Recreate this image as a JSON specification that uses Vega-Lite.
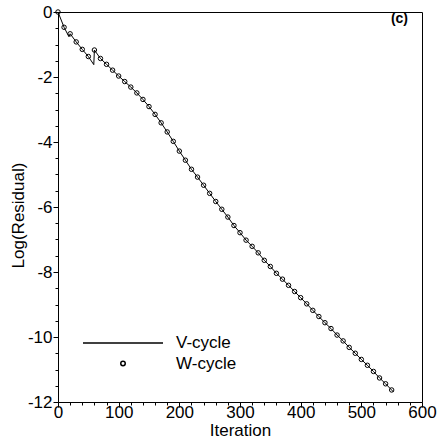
{
  "$schema": "https://vega.github.io/schema/vega-lite/v6.json",
  "autosize": "none",
  "width": 364,
  "height": 390,
  "padding": {"left": 58, "top": 12, "right": 19, "bottom": 40},
  "background": "white",
  "config": {
    "view": {"stroke": "black", "strokeWidth": 1},
    "font": "Liberation Sans",
    "axis": {
      "grid": false,
      "domainColor": "black",
      "tickColor": "black",
      "labelColor": "black",
      "titleColor": "black",
      "labelFont": "Liberation Sans",
      "titleFont": "Liberation Sans",
      "labelFontSize": 17,
      "titleFontSize": 17,
      "titleFontWeight": "normal",
      "labelFlush": false,
      "labelOverlap": false
    }
  },
  "datasets": {
    "res": [
      {"it": 0, "lr": 0, "series": "V-cycle"},
      {"it": 10, "lr": -0.47, "series": "V-cycle"},
      {"it": 18, "lr": -0.76, "series": "V-cycle"},
      {"it": 20, "lr": -0.67, "series": "V-cycle"},
      {"it": 30, "lr": -0.92, "series": "V-cycle"},
      {"it": 40, "lr": -1.15, "series": "V-cycle"},
      {"it": 50, "lr": -1.37, "series": "V-cycle"},
      {"it": 59, "lr": -1.62, "series": "V-cycle"},
      {"it": 60, "lr": -1.17, "series": "V-cycle"},
      {"it": 70, "lr": -1.43, "series": "V-cycle"},
      {"it": 80, "lr": -1.61, "series": "V-cycle"},
      {"it": 90, "lr": -1.79, "series": "V-cycle"},
      {"it": 100, "lr": -1.97, "series": "V-cycle"},
      {"it": 110, "lr": -2.14, "series": "V-cycle"},
      {"it": 120, "lr": -2.31, "series": "V-cycle"},
      {"it": 130, "lr": -2.49, "series": "V-cycle"},
      {"it": 140, "lr": -2.69, "series": "V-cycle"},
      {"it": 150, "lr": -2.91, "series": "V-cycle"},
      {"it": 160, "lr": -3.15, "series": "V-cycle"},
      {"it": 170, "lr": -3.41, "series": "V-cycle"},
      {"it": 180, "lr": -3.69, "series": "V-cycle"},
      {"it": 190, "lr": -3.98, "series": "V-cycle"},
      {"it": 200, "lr": -4.28, "series": "V-cycle"},
      {"it": 210, "lr": -4.56, "series": "V-cycle"},
      {"it": 220, "lr": -4.84, "series": "V-cycle"},
      {"it": 230, "lr": -5.08, "series": "V-cycle"},
      {"it": 240, "lr": -5.33, "series": "V-cycle"},
      {"it": 250, "lr": -5.58, "series": "V-cycle"},
      {"it": 260, "lr": -5.83, "series": "V-cycle"},
      {"it": 270, "lr": -6.07, "series": "V-cycle"},
      {"it": 280, "lr": -6.31, "series": "V-cycle"},
      {"it": 290, "lr": -6.57, "series": "V-cycle"},
      {"it": 300, "lr": -6.79, "series": "V-cycle"},
      {"it": 310, "lr": -7.02, "series": "V-cycle"},
      {"it": 320, "lr": -7.21, "series": "V-cycle"},
      {"it": 330, "lr": -7.41, "series": "V-cycle"},
      {"it": 340, "lr": -7.64, "series": "V-cycle"},
      {"it": 350, "lr": -7.83, "series": "V-cycle"},
      {"it": 360, "lr": -8.04, "series": "V-cycle"},
      {"it": 370, "lr": -8.22, "series": "V-cycle"},
      {"it": 380, "lr": -8.41, "series": "V-cycle"},
      {"it": 390, "lr": -8.60, "series": "V-cycle"},
      {"it": 400, "lr": -8.79, "series": "V-cycle"},
      {"it": 410, "lr": -8.98, "series": "V-cycle"},
      {"it": 420, "lr": -9.18, "series": "V-cycle"},
      {"it": 430, "lr": -9.37, "series": "V-cycle"},
      {"it": 440, "lr": -9.56, "series": "V-cycle"},
      {"it": 450, "lr": -9.74, "series": "V-cycle"},
      {"it": 460, "lr": -9.94, "series": "V-cycle"},
      {"it": 470, "lr": -10.12, "series": "V-cycle"},
      {"it": 480, "lr": -10.32, "series": "V-cycle"},
      {"it": 490, "lr": -10.50, "series": "V-cycle"},
      {"it": 500, "lr": -10.69, "series": "V-cycle"},
      {"it": 510, "lr": -10.87, "series": "V-cycle"},
      {"it": 520, "lr": -11.06, "series": "V-cycle"},
      {"it": 530, "lr": -11.26, "series": "V-cycle"},
      {"it": 540, "lr": -11.44, "series": "V-cycle"},
      {"it": 553, "lr": -11.69, "series": "V-cycle"},
      {"it": 0, "lr": 0, "series": "W-cycle"},
      {"it": 10, "lr": -0.47, "series": "W-cycle"},
      {"it": 20, "lr": -0.67, "series": "W-cycle"},
      {"it": 30, "lr": -0.92, "series": "W-cycle"},
      {"it": 40, "lr": -1.15, "series": "W-cycle"},
      {"it": 50, "lr": -1.37, "series": "W-cycle"},
      {"it": 60, "lr": -1.17, "series": "W-cycle"},
      {"it": 70, "lr": -1.43, "series": "W-cycle"},
      {"it": 80, "lr": -1.61, "series": "W-cycle"},
      {"it": 90, "lr": -1.79, "series": "W-cycle"},
      {"it": 100, "lr": -1.97, "series": "W-cycle"},
      {"it": 110, "lr": -2.14, "series": "W-cycle"},
      {"it": 120, "lr": -2.31, "series": "W-cycle"},
      {"it": 130, "lr": -2.49, "series": "W-cycle"},
      {"it": 140, "lr": -2.69, "series": "W-cycle"},
      {"it": 150, "lr": -2.91, "series": "W-cycle"},
      {"it": 160, "lr": -3.15, "series": "W-cycle"},
      {"it": 170, "lr": -3.41, "series": "W-cycle"},
      {"it": 180, "lr": -3.69, "series": "W-cycle"},
      {"it": 190, "lr": -3.98, "series": "W-cycle"},
      {"it": 200, "lr": -4.28, "series": "W-cycle"},
      {"it": 210, "lr": -4.56, "series": "W-cycle"},
      {"it": 220, "lr": -4.84, "series": "W-cycle"},
      {"it": 230, "lr": -5.08, "series": "W-cycle"},
      {"it": 240, "lr": -5.33, "series": "W-cycle"},
      {"it": 250, "lr": -5.58, "series": "W-cycle"},
      {"it": 260, "lr": -5.83, "series": "W-cycle"},
      {"it": 270, "lr": -6.07, "series": "W-cycle"},
      {"it": 280, "lr": -6.31, "series": "W-cycle"},
      {"it": 290, "lr": -6.57, "series": "W-cycle"},
      {"it": 300, "lr": -6.79, "series": "W-cycle"},
      {"it": 310, "lr": -7.02, "series": "W-cycle"},
      {"it": 320, "lr": -7.21, "series": "W-cycle"},
      {"it": 330, "lr": -7.41, "series": "W-cycle"},
      {"it": 340, "lr": -7.64, "series": "W-cycle"},
      {"it": 350, "lr": -7.83, "series": "W-cycle"},
      {"it": 360, "lr": -8.04, "series": "W-cycle"},
      {"it": 370, "lr": -8.22, "series": "W-cycle"},
      {"it": 380, "lr": -8.41, "series": "W-cycle"},
      {"it": 390, "lr": -8.60, "series": "W-cycle"},
      {"it": 400, "lr": -8.79, "series": "W-cycle"},
      {"it": 410, "lr": -8.98, "series": "W-cycle"},
      {"it": 420, "lr": -9.18, "series": "W-cycle"},
      {"it": 430, "lr": -9.37, "series": "W-cycle"},
      {"it": 440, "lr": -9.56, "series": "W-cycle"},
      {"it": 450, "lr": -9.74, "series": "W-cycle"},
      {"it": 460, "lr": -9.94, "series": "W-cycle"},
      {"it": 470, "lr": -10.12, "series": "W-cycle"},
      {"it": 480, "lr": -10.32, "series": "W-cycle"},
      {"it": 490, "lr": -10.50, "series": "W-cycle"},
      {"it": 500, "lr": -10.69, "series": "W-cycle"},
      {"it": 510, "lr": -10.87, "series": "W-cycle"},
      {"it": 520, "lr": -11.06, "series": "W-cycle"},
      {"it": 530, "lr": -11.26, "series": "W-cycle"},
      {"it": 540, "lr": -11.44, "series": "W-cycle"},
      {"it": 550, "lr": -11.63, "series": "W-cycle"}
    ],
    "tag": [{"it": 577, "lr": -0.2, "label": "(c)"}]
  },
  "encoding": {
    "x": {
      "field": "it", "type": "quantitative",
      "scale": {"domain": [0, 600], "nice": false, "zero": false},
      "axis": {
        "title": "Iteration",
        "values": [0,20,40,60,80,100,120,140,160,180,200,220,240,260,280,300,320,340,360,380,400,420,440,460,480,500,520,540,560,580,600],
        "labelExpr": "datum.value % 100 === 0 ? '' + datum.value : ''",
        "tickSize": {"condition": {"test": "datum.value % 100 === 0", "value": 5}, "value": 3},
        "labelPadding": -3,
        "titlePadding": 2
      }
    },
    "y": {
      "field": "lr", "type": "quantitative",
      "scale": {"domain": [-12, 0], "nice": false, "zero": false},
      "axis": {
        "title": "Log(Residual)",
        "values": [-12,-11.5,-11,-10.5,-10,-9.5,-9,-8.5,-8,-7.5,-7,-6.5,-6,-5.5,-5,-4.5,-4,-3.5,-3,-2.5,-2,-1.5,-1,-0.5,0],
        "labelExpr": "datum.value % 2 === 0 ? '' + datum.value : ''",
        "tickSize": {"condition": {"test": "datum.value % 2 === 0", "value": 5}, "value": 3},
        "labelPadding": 1,
        "titlePadding": 0,
        "titleY": 203
      }
    }
  },
  "layer": [
    {
      "data": {"name": "res"},
      "transform": [{"filter": "datum.series === 'V-cycle'"}],
      "mark": {"type": "line", "color": "black", "strokeWidth": 1},
      "encoding": {}
    },
    {
      "data": {"name": "res"},
      "transform": [{"filter": "datum.series === 'W-cycle'"}],
      "mark": {"type": "point", "filled": false, "strokeWidth": 1, "opacity": 1},
      "encoding": {
        "color": {
          "field": "series", "type": "nominal",
          "scale": {"domain": ["V-cycle", "W-cycle"], "range": ["black", "black"]},
          "legend": {
            "title": null,
            "orient": "none",
            "legendX": 24,
            "legendY": 290,
            "labelFont": "Liberation Sans",
            "labelFontSize": 17,
            "labelColor": "black",
            "labelOffset": 12,
            "rowPadding": 3,
            "padding": 0
          }
        },
        "shape": {
          "field": "series", "type": "nominal",
          "scale": {"domain": ["V-cycle", "W-cycle"], "range": ["stroke", "circle"]}
        },
        "size": {
          "field": "series", "type": "ordinal",
          "scale": {"domain": ["V-cycle", "W-cycle"], "range": [6400, 20]}
        }
      }
    },
    {
      "data": {"name": "tag"},
      "mark": {"type": "text", "align": "right", "baseline": "middle", "font": "Liberation Sans", "fontWeight": "bold", "fontSize": 14, "color": "black"},
      "encoding": {"text": {"field": "label"}}
    }
  ]
}
